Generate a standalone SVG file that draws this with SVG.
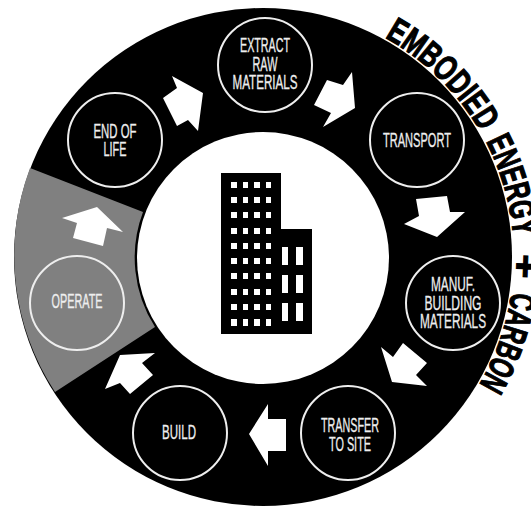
<svg xmlns="http://www.w3.org/2000/svg" width="531" height="507" viewBox="0 0 531 507">
<style>
.n{fill:none;stroke:#eee;stroke-width:2}
.t{font-family:"Liberation Sans",Arial,sans-serif;font-size:20px;fill:#eee;stroke:#eee;stroke-width:.3;text-anchor:middle}
.c{font-family:"Liberation Sans",Arial,sans-serif;font-size:35px;font-weight:bold;fill:#000;stroke:#000;stroke-width:1.2}
.a{fill:#fff}
</style>
<defs>
<path id="arc" d="M384.7,37.5 A251,251 0 0 1 455.3,418.3"/>
</defs>
<rect width="531" height="507" fill="#fff"/>
<g id="title">
<text class="c"><textPath href="#arc" startOffset="0" textLength="136" lengthAdjust="spacingAndGlyphs">EMBODIED</textPath></text>
<text class="c"><textPath href="#arc" startOffset="147" textLength="99" lengthAdjust="spacingAndGlyphs">ENERGY</textPath></text>
<text class="c"><textPath href="#arc" startOffset="264" textLength="24" lengthAdjust="spacingAndGlyphs">+</textPath></text>
<text class="c"><textPath href="#arc" startOffset="302" textLength="99" lengthAdjust="spacingAndGlyphs">CARBON</textPath></text>
</g>
<g id="ring">
<circle cx="263" cy="257" r="249" fill="#000"/>
<path d="M30,168 A249,249 0 0 0 55,392 L155,327 A129,129 0 0 1 143,212 Z" fill="#808080"/>
<circle cx="263" cy="258" r="126" fill="#fff"/>
</g>
<g id="building">
<path d="M221,173H281V229H312V334H221Z" fill="#000"/>
<path fill="#fff" d="M231,182h6v6h-6zM243,182h5v6h-5zM254,182h6v6h-6zM266,182h5v6h-5zM231,197h6v6h-6zM243,197h5v6h-5zM254,197h6v6h-6zM266,197h5v6h-5zM231,212h6v6h-6zM243,212h5v6h-5zM254,212h6v6h-6zM266,212h5v6h-5zM231,228h6v6h-6zM243,228h5v6h-5zM254,228h6v6h-6zM266,228h5v6h-5zM231,243h6v6h-6zM243,243h5v6h-5zM254,243h6v6h-6zM266,243h5v6h-5zM231,258h6v6h-6zM243,258h5v6h-5zM254,258h6v6h-6zM266,258h5v6h-5zM231,273h6v6h-6zM243,273h5v6h-5zM254,273h6v6h-6zM266,273h5v6h-5zM231,289h6v6h-6zM243,289h5v6h-5zM254,289h6v6h-6zM266,289h5v6h-5zM231,304h6v6h-6zM243,304h5v6h-5zM254,304h6v6h-6zM266,304h5v6h-5zM231,319h6v7h-6zM243,319h5v7h-5zM254,319h6v7h-6zM266,319h5v7h-5zM282,247h6v18h-6zM296,247h7v18h-7zM282,275h6v18h-6zM296,275h7v18h-7zM282,303h6v18h-6zM296,303h7v18h-7z"/>
</g>
<g id="connectors">
<polygon class="a" points="172,76 203,93 198,131 188,120 177,126 163,98 177,88"/>
<polygon class="a" points="352,72 355,108 323,127 331,113 314,105 327,80 343,85"/>
<polygon class="a" points="416,199 447,196 450,212 465,212 437,237 404,224 419,216"/>
<polygon class="a" points="381,347 393,357 403,343 427,363 416,375 427,386 392,382"/>
<polygon class="a" points="249,434 268,404 268,419 286,419 286,451 268,451 268,466"/>
<polygon class="a" points="155,353 142,363 153,375 130,394 120,383 105,389 120,355"/>
<polygon class="a" points="97,207 123,232 107,228 103,246 73,238 77,223 62,218"/>
</g>
<g id="node-extract"><circle class="n" cx="265" cy="65" r="47"/>
<text class="t" x="265" y="52" textLength="50" lengthAdjust="spacingAndGlyphs">EXTRACT</text>
<text class="t" x="265" y="71" textLength="25" lengthAdjust="spacingAndGlyphs">RAW</text>
<text class="t" x="265" y="89" textLength="65" lengthAdjust="spacingAndGlyphs">MATERIALS</text></g>
<g id="node-transport"><circle class="n" cx="417" cy="140" r="47"/>
<text class="t" x="417" y="147" textLength="68" lengthAdjust="spacingAndGlyphs">TRANSPORT</text></g>
<g id="node-manuf"><circle class="n" cx="453" cy="303" r="47"/>
<text class="t" x="453" y="291" textLength="44" lengthAdjust="spacingAndGlyphs">MANUF.</text>
<text class="t" x="453" y="310" textLength="57" lengthAdjust="spacingAndGlyphs">BUILDING</text>
<text class="t" x="453" y="328" textLength="66" lengthAdjust="spacingAndGlyphs">MATERIALS</text></g>
<g id="node-transfer"><circle class="n" cx="348" cy="433" r="47"/>
<text class="t" x="350" y="432" textLength="58" lengthAdjust="spacingAndGlyphs">TRANSFER</text>
<text class="t" x="350" y="451" textLength="42" lengthAdjust="spacingAndGlyphs">TO SITE</text></g>
<g id="node-build"><circle class="n" cx="180" cy="433" r="47"/>
<text class="t" x="179" y="439" textLength="34" lengthAdjust="spacingAndGlyphs">BUILD</text></g>
<g id="node-operate"><circle class="n" cx="77" cy="303" r="47"/>
<text class="t" x="77" y="308" textLength="51" lengthAdjust="spacingAndGlyphs">OPERATE</text></g>
<g id="node-end"><circle class="n" cx="115" cy="140" r="47"/>
<text class="t" x="115" y="138" textLength="43" lengthAdjust="spacingAndGlyphs">END OF</text>
<text class="t" x="115" y="156" textLength="23" lengthAdjust="spacingAndGlyphs">LIFE</text></g>
</svg>
